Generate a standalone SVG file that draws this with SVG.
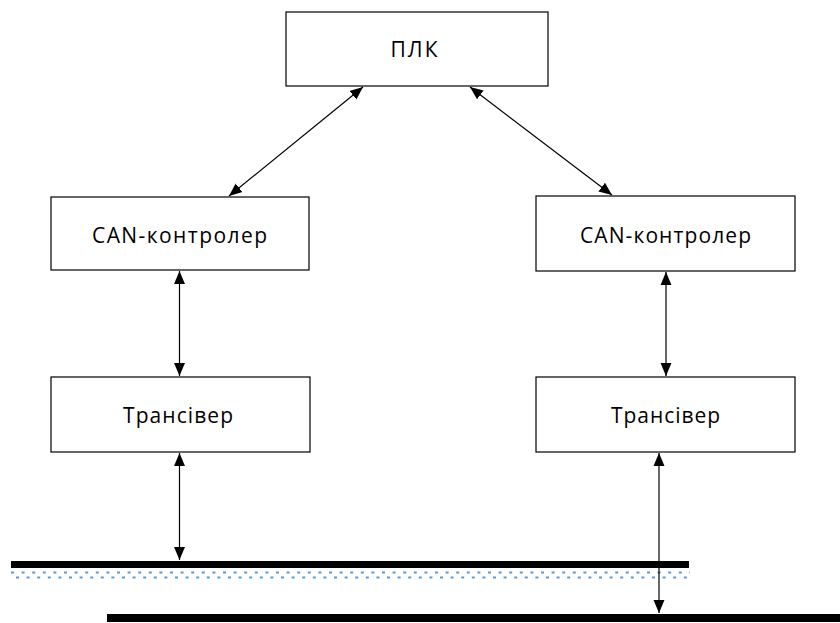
<svg xmlns="http://www.w3.org/2000/svg" width="840" height="623" viewBox="0 0 840 623">
<style>
.box{fill:#fff;stroke:#000;stroke-width:1.2}
.lbl{font-family:"Open Sans","Liberation Sans",sans-serif;font-size:21px;fill:#000;text-anchor:middle}
.con{stroke:#000;stroke-width:1.2;fill:none;marker-start:url(#ah);marker-end:url(#ah)}
</style>
<defs>
<marker id="ah" viewBox="0 0 10 10" refX="10" refY="5" markerWidth="13" markerHeight="13" markerUnits="userSpaceOnUse" orient="auto-start-reverse">
<path d="M0,0.8 L10,5 L0,9.2 z" fill="#000"/>
</marker>
</defs>
<rect width="840" height="623" fill="#fff"/>
<g id="plc"><rect class="box" x="286" y="12" width="262" height="74"/><text class="lbl" x="414" y="57" textLength="47">ПЛК</text></g>
<g id="can1"><rect class="box" x="51" y="197" width="258" height="73"/><text class="lbl" x="179.5" y="243" textLength="175">CAN-контролер</text></g>
<g id="can2"><rect class="box" x="536" y="196" width="259" height="75"/><text class="lbl" x="665.5" y="243" textLength="171">CAN-контролер</text></g>
<g id="trx1"><rect class="box" x="51" y="377" width="259" height="75"/><text class="lbl" x="178" y="423" textLength="110">Трансівер</text></g>
<g id="trx2"><rect class="box" x="536" y="377" width="259" height="75"/><text class="lbl" x="665.5" y="423" textLength="109">Трансівер</text></g>
<g id="bus">
<rect x="11" y="561" width="678" height="7" fill="#000"/>
<line x1="11" y1="572.5" x2="690" y2="572.5" stroke="#5b9bd5" stroke-width="2" stroke-dasharray="3 7.6"/>
<line x1="16" y1="577.5" x2="690" y2="577.5" stroke="#5b9bd5" stroke-width="2" stroke-dasharray="3 7.6"/>
<rect x="107" y="614" width="733" height="8" fill="#000"/>
</g>
<g id="connectors">
<line class="con" x1="363" y1="87" x2="229" y2="196"/>
<line class="con" x1="470" y1="87" x2="612" y2="195"/>
<line class="con" x1="179.5" y1="271" x2="179.5" y2="376"/>
<line class="con" x1="666" y1="272" x2="666" y2="376"/>
<line class="con" x1="179.5" y1="453" x2="179.5" y2="560"/>
<line class="con" x1="659" y1="453" x2="659" y2="613"/>
</g>
</svg>
